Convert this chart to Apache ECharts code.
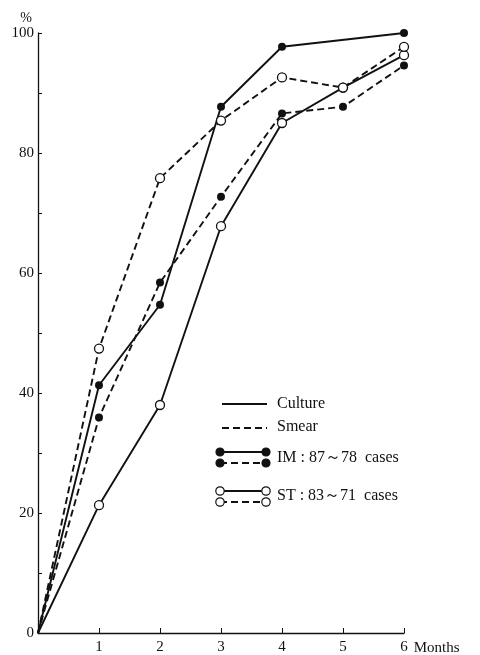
<!DOCTYPE html>
<html><head><meta charset="utf-8">
<script src="https://cdn.jsdelivr.net/npm/echarts@6/dist/echarts.min.js"></script>
<style>html,body{margin:0;padding:0;background:#fff}#c{width:480px;height:655px}</style>
</head><body><div id="c"></div>
<script>
const months = [0, 1, 2, 3, 4, 5, 6];
const xTickLabels = ['', '1', '2', '3', '4', '5', '6'];
const yTickLabels = ['0', '20', '40', '60', '80', '100'];
const imCulture = [0, 41.3, 54.7, 87.7, 97.7, null, 100];
const imSmear   = [0, 35.9, 58.4, 72.7, 86.6, 87.7, 94.6];
const stCulture = [0, 21.3, 38.0, 67.8, 85.0, 90.9, 96.3];
const stSmear   = [0, 47.4, 75.8, 85.4, 92.6, 90.9, 97.7];
const legendTexts = ['Culture', 'Smear', 'IM : 87～78  cases', 'ST : 83～71  cases'];

const FONT = 'Liberation Serif';
function mk(name, vals, dashed, filled) {
  return {
    name: name, type: 'line', connectNulls: true,
    data: months.map((m, i) => vals[i] === null ? [m, null] :
      (i === 0 ? {value: [m, vals[i]], symbol: 'none'} : [m, vals[i]])),
    symbol: 'circle', symbolSize: filled ? 8 : 9,
    itemStyle: {color: filled ? '#111' : '#fff', borderColor: '#111', borderWidth: filled ? 0 : 1.3},
    lineStyle: {color: '#111', width: 1.9, type: dashed ? [7, 4] : 'solid'},
    z: filled ? 3 : 4, animation: false
  };
}
const chart = echarts.init(document.getElementById('c'), null, {renderer: 'canvas'});
const lg = [];
function lineG(x1, y1, x2, y2, dashed) {
  lg.push({type: 'line', shape: {x1, y1, x2, y2}, style: {stroke: '#111', lineWidth: 1.9, lineDash: dashed ? [7, 4] : null}});
}
function circ(cx, cy, filled) {
  lg.push({type: 'circle', shape: {cx, cy, r: filled ? 4 : 4.2}, style: {fill: filled ? '#111' : '#fff', stroke: '#111', lineWidth: 1.2}, z: 10});
}
function txt(x, y, t) {
  lg.push({type: 'text', x: x, y: y, style: {text: t, font: '16px "Liberation Serif"', fill: '#111', verticalAlign: 'middle'}});
}
lineG(222, 404, 267, 404, false); txt(277, 404, legendTexts[0]);
lineG(222, 428, 267, 428, true); txt(277, 427, legendTexts[1]);
lineG(220, 452, 266, 452, false); lineG(220, 463, 266, 463, true);
circ(220, 452, true); circ(266, 452, true); circ(220, 463, true); circ(266, 463, true);
txt(277, 458, legendTexts[2]);
lineG(220, 491, 266, 491, false); lineG(220, 502, 266, 502, true);
circ(220, 491, false); circ(266, 491, false); circ(220, 502, false); circ(266, 502, false);
txt(277, 496, legendTexts[3]);

chart.setOption({
  animation: false,
  grid: {left: 38, right: 76, top: 33, bottom: 22, containLabel: false, outerBoundsMode: 'none'},
  xAxis: {
    type: 'value', min: 0, max: 6, interval: 1,
    name: 'Months', nameLocation: 'end', nameGap: 7,
    nameTextStyle: {fontFamily: FONT, fontSize: 15, color: '#111', verticalAlign: 'top', padding: [8, 0, 0, 0], align: 'left'},
    axisLine: {lineStyle: {color: '#111', width: 1.3}},
    axisTick: {inside: true, length: 5, lineStyle: {color: '#111'}},
    axisLabel: {fontFamily: FONT, fontSize: 15, color: '#111', margin: 7, formatter: v => xTickLabels[Math.round(v)] || ''},
    splitLine: {show: false}
  },
  yAxis: {
    type: 'value', min: 0, max: 100, interval: 10,
    name: '%', nameLocation: 'end', nameGap: 8,
    nameTextStyle: {fontFamily: FONT, fontSize: 14, color: '#111', align: 'right', padding: [0, 6, 0, 0]},
    axisLine: {show: true, lineStyle: {color: '#111', width: 1.3}},
    axisTick: {inside: true, length: 4, lineStyle: {color: '#111'}},
    axisLabel: {fontFamily: FONT, fontSize: 15, color: '#111', margin: 4,
      formatter: v => (v % 20 === 0 ? yTickLabels[v / 20] : '')},
    splitLine: {show: false}
  },
  series: [
    mk('IM Culture', imCulture, false, true),
    mk('IM Smear', imSmear, true, true),
    mk('ST Culture', stCulture, false, false),
    mk('ST Smear', stSmear, true, false)
  ],
  graphic: lg
});
</script></body></html>
